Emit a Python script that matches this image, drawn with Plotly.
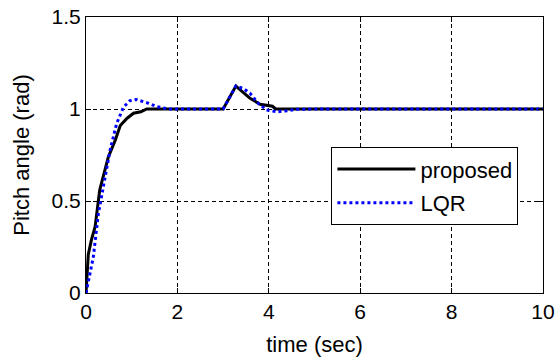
import plotly.graph_objects as go

# time samples and responses
proposed_t = [0, 0.02, 0.05, 0.12, 0.2, 0.3, 0.4, 0.49, 0.64, 0.75, 0.9, 1.04, 1.2, 1.33, 1.5,
              2.0, 2.5, 3.0, 3.28, 3.45, 3.59, 3.81, 4.0, 4.08, 4.15, 5, 6, 7, 8, 9, 10]
proposed_y = [0.0, 0.12, 0.21, 0.29, 0.36, 0.56, 0.65, 0.74, 0.83, 0.91, 0.95, 0.977, 0.985, 1.0, 1.0,
              1.0, 1.0, 1.0, 1.125, 1.09, 1.058, 1.026, 1.02, 1.015, 1.0, 1.0, 1.0, 1.0, 1.0, 1.0, 1.0]

lqr_t = [0, 0.08, 0.16, 0.27, 0.42, 0.53, 0.67, 0.82, 0.96, 1.1, 1.37, 1.55, 1.8, 2.0, 2.5,
         3.0, 3.28, 3.45, 3.59, 3.77, 3.95, 4.18, 4.4, 4.6, 5, 6, 7, 8, 9, 10]
lqr_y = [0.0, 0.1, 0.195, 0.43, 0.63, 0.78, 0.92, 1.01, 1.045, 1.052, 1.031, 1.013, 1.0, 1.0, 1.0,
         1.0, 1.125, 1.11, 1.085, 1.031, 0.995, 0.985, 0.99, 0.998, 1.0, 1.0, 1.0, 1.0, 1.0, 1.0]

x_ticks = [0, 2, 4, 6, 8, 10]
y_ticks = [0, 0.5, 1, 1.5]
y_tick_text = ["0", "0.5", "1", "1.5"]

FONT = "Liberation Sans, Arial, sans-serif"

fig = go.Figure()
fig.add_trace(go.Scatter(x=proposed_t, y=proposed_y, mode="lines", name="proposed",
                         legendgroup="a", line=dict(color="black", width=3)))
fig.add_trace(go.Scatter(x=lqr_t, y=lqr_y, mode="lines", name="LQR",
                         legendgroup="b", line=dict(color="#0000ff", width=3, dash="dot")))

axis_common = dict(
    showline=True, linecolor="black", linewidth=1, mirror="ticks",
    ticks="inside", ticklen=5, tickcolor="black",
    showgrid=True, gridcolor="black", gridwidth=1, griddash="4px,3px",
    zeroline=False, automargin=False,
    tickfont=dict(family=FONT, size=21, color="black"),
)

fig.update_xaxes(range=[0, 10], tickvals=x_ticks, **axis_common,
                 title=dict(text="time (sec)", font=dict(family=FONT, size=22, color="black"), standoff=14))
fig.update_yaxes(range=[0, 1.5], tickvals=y_ticks, ticktext=y_tick_text, **axis_common,
                 title=dict(text="Pitch angle (rad)", font=dict(family=FONT, size=22, color="black"), standoff=15))

fig.update_layout(
    width=556, height=361,
    margin=dict(l=86, r=13, t=17, b=68, pad=0),
    paper_bgcolor="white", plot_bgcolor="white",
    font=dict(family=FONT, size=22, color="black"),
    legend=dict(x=0.537, y=0.528, xanchor="left", yanchor="top",
                bgcolor="white", bordercolor="black", borderwidth=1,
                font=dict(family=FONT, size=22, color="black"),
                itemwidth=78, traceorder="grouped", tracegroupgap=2),
    showlegend=True,
)

fig.write_html("out.html")
